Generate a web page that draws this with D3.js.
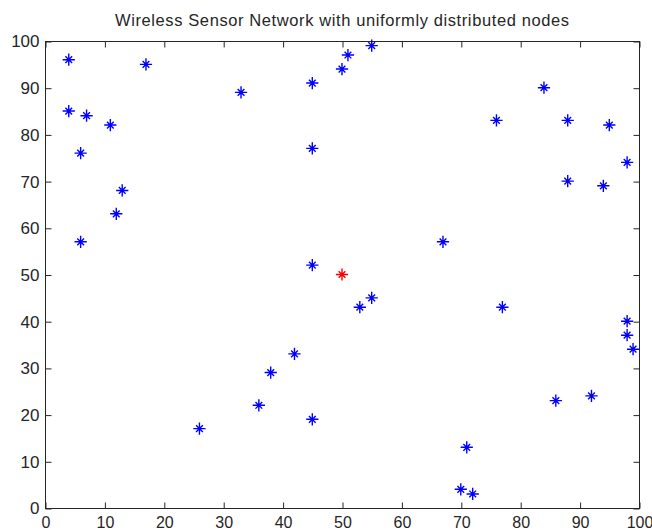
<!DOCTYPE html>
<html>
<head>
<meta charset="utf-8">
<script src="https://cdn.jsdelivr.net/npm/d3@7"></script>
<style>
  body { margin: 0; background: #fff; }
  text { font-family: "Liberation Sans", Arial, sans-serif; fill: #262626; }
</style>
</head>
<body>
<div id="chart"></div>
<script>
// sensor node positions (x, y)
var nodeX = [4, 4, 7, 6, 11, 17, 13, 12, 6, 33, 45, 45, 50, 51, 55, 45, 53, 55, 42, 38,
             36, 26, 45, 67, 76, 77, 84, 88, 88, 95, 94, 98, 98, 98, 99, 86, 92, 71, 70, 72];
var nodeY = [96, 85, 84, 76, 82, 95, 68, 63, 57, 89, 91, 77, 94, 97, 99, 52, 43, 45, 33, 29,
             22, 17, 19, 57, 83, 43, 90, 83, 70, 82, 69, 74, 40, 37, 34, 23, 24, 13, 4, 3];
// base station
var sinkX = [50];
var sinkY = [50];
var xTicks = [0, 10, 20, 30, 40, 50, 60, 70, 80, 90, 100];
var yTicks = [0, 10, 20, 30, 40, 50, 60, 70, 80, 90, 100];
var title = "Wireless Sensor Network with uniformly distributed nodes";

var width = 652, height = 531;
var margin = {left: 45, right: 13, top: 41, bottom: 23};
var pw = width - margin.left - margin.right,
    ph = height - margin.top - margin.bottom;

var x = d3.scaleLinear().domain([0, 100]).range([0, pw]);
var y = d3.scaleLinear().domain([0, 100]).range([ph, 0]);

// matlab style '*' marker: plus with short diagonals
var matlabStar = {
    draw: function(ctx, size) {
        var r = Math.sqrt(size) / 2, t = r * 0.55;
        ctx.moveTo(0, -r); ctx.lineTo(0, r);
        ctx.moveTo(-r, 0); ctx.lineTo(r, 0);
        ctx.moveTo(-t, -t); ctx.lineTo(t, t);
        ctx.moveTo(-t, t); ctx.lineTo(t, -t);
    }
};

var svg = d3.select("#chart").append("svg")
    .attr("width", width)
    .attr("height", height);

svg.append("text")
    .attr("x", margin.left + pw / 2)
    .attr("y", 26)
    .attr("text-anchor", "middle")
    .attr("textLength", 454)
    .attr("lengthAdjust", "spacing")
    .style("font-size", "16.5px")
    .text(title);

var g = svg.append("g")
    .attr("transform", "translate(" + margin.left + "," + margin.top + ")");

// box
g.append("rect")
    .attr("x", 0.5).attr("y", 0.5)
    .attr("width", pw).attr("height", ph)
    .attr("fill", "none")
    .attr("stroke", "#262626");

var tl = 6;
function styleAxis(sel, fs) {
    sel.select(".domain").remove();
    sel.selectAll("line").attr("stroke", "#262626");
    sel.selectAll("text").style("font-size", fs || "17px").attr("fill", "#262626");
}

g.append("g")
    .attr("transform", "translate(0.5," + (ph + 0.5) + ")")
    .call(d3.axisBottom(x).tickValues(xTicks).tickSize(-tl).tickPadding(8))
    .call(styleAxis, "16px");
g.append("g")
    .attr("transform", "translate(0.5,0.5)")
    .call(d3.axisTop(x).tickValues(xTicks).tickSize(-tl).tickFormat(""))
    .call(styleAxis);
g.append("g")
    .attr("transform", "translate(0.5,0.5)")
    .call(d3.axisLeft(y).tickValues(yTicks).tickSize(-tl).tickPadding(6))
    .call(styleAxis);
g.append("g")
    .attr("transform", "translate(" + (pw + 0.5) + ",0.5)")
    .call(d3.axisRight(y).tickValues(yTicks).tickSize(-tl).tickFormat(""))
    .call(styleAxis);

var star = d3.symbol().type(matlabStar).size(150);

var nodes = nodeX.map(function(d, i) { return {x: d, y: nodeY[i]}; });
var sinks = sinkX.map(function(d, i) { return {x: d, y: sinkY[i]}; });

g.selectAll(".node")
    .data(nodes)
    .enter()
    .append("path")
    .attr("class", "node")
    .attr("transform", function(d) { return "translate(" + x(d.x) + "," + y(d.y) + ")"; })
    .attr("d", star)
    .attr("fill", "none")
    .attr("stroke", "#0000ff")
    .attr("stroke-width", 1.4);

g.selectAll(".sink")
    .data(sinks)
    .enter()
    .append("path")
    .attr("class", "sink")
    .attr("transform", function(d) { return "translate(" + x(d.x) + "," + y(d.y) + ")"; })
    .attr("d", star)
    .attr("fill", "none")
    .attr("stroke", "#ff0000")
    .attr("stroke-width", 1.4);
</script>
</body>
</html>
